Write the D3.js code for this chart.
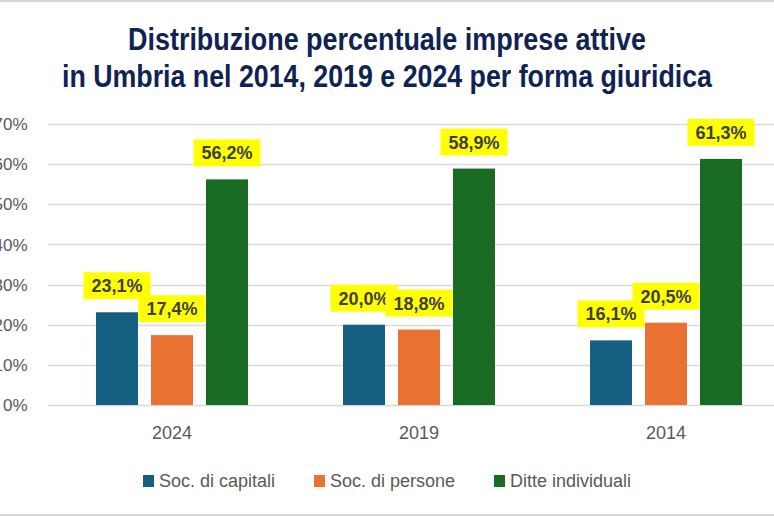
<!DOCTYPE html>
<html><head><meta charset="utf-8">
<script src="https://cdn.jsdelivr.net/npm/d3@7"></script>
<style>body{margin:0;background:#fff;} svg{display:block;}</style>
</head><body>
<svg id="c" width="774" height="516"></svg>
<script>
const years = ["2024", "2019", "2014"];
const seriesNames = ["Soc. di capitali", "Soc. di persone", "Ditte individuali"];
const socCapitali = [23.1, 20.0, 16.1];
const socPersone = [17.4, 18.8, 20.5];
const ditteIndividuali = [56.2, 58.9, 61.3];
const yTicks = [0, 10, 20, 30, 40, 50, 60, 70];
const colors = ["#156082", "#e97132", "#196b24"];
const titleLines = ["Distribuzione percentuale imprese attive", "in Umbria nel 2014, 2019 e 2024 per forma giuridica"];

const series = [socCapitali, socPersone, ditteIndividuali];
const svg = d3.select("#c");
const fmt = v => v.toFixed(1).replace(".", ",") + "%";

svg.append("rect").attr("x",0).attr("y",0).attr("width",774).attr("height",516).attr("fill","#fff");
svg.append("line").attr("x1",0).attr("x2",774).attr("y1",1).attr("y2",1).attr("stroke","#d6d6d6").attr("stroke-width",2);
svg.append("line").attr("x1",0).attr("x2",774).attr("y1",515).attr("y2",515).attr("stroke","#d6d6d6").attr("stroke-width",2);

// Title
const tl = [{t:titleLines[0], y:50, w:518, x:128},{t:titleLines[1], y:87, w:650, x:62}];
svg.selectAll("text.title").data(tl).enter().append("text")
  .attr("class","title")
  .attr("x", d=>d.x).attr("y", d=>d.y)
  .attr("textLength", d=>d.w).attr("lengthAdjust","spacingAndGlyphs")
  .attr("font-family","'Liberation Sans Narrow','Liberation Sans',Arial,sans-serif")
  .attr("font-weight","bold").attr("font-size",31).attr("fill","#0f2353")
  .text(d=>d.t);

const x0 = d3.scaleBand().domain(years).range([48.5, 789.5]).paddingInner(0).paddingOuter(0);
const y = d3.scaleLinear().domain([0, 70]).range([405, 124]);
const barW = 42, gap = 13;

// grid
svg.append("g").selectAll("line").data(yTicks).enter().append("line")
  .attr("x1", 48).attr("x2", 774)
  .attr("y1", d=>Math.round(y(d))+0.5).attr("y2", d=>Math.round(y(d))+0.5)
  .attr("stroke","#d9d9d9").attr("stroke-width",1.3);

// y axis labels
svg.append("g").selectAll("text").data(yTicks).enter().append("text")
  .attr("x", 27.5).attr("y", d=>y(d)).attr("dy","0.36em").attr("text-anchor","end")
  .attr("font-family","'Liberation Sans',Arial,sans-serif").attr("font-size",17).attr("fill","#595959")
  .text(d=>d+"%");

// x labels
svg.append("g").selectAll("text").data(years).enter().append("text")
  .attr("x", d=>x0(d)+x0.bandwidth()/2).attr("y", 439).attr("text-anchor","middle")
  .attr("font-family","'Liberation Sans',Arial,sans-serif").attr("font-size",18).attr("fill","#595959")
  .text(d=>d);

const groupW = 3*barW + 2*gap;
const barX = (i, s) => x0(years[i]) + (x0.bandwidth()-groupW)/2 + s*(barW+gap);

// bars
const bars = [];
series.forEach((arr, s) => arr.forEach((v, i) => bars.push({s, i, v})));
svg.append("g").selectAll("rect").data(bars).enter().append("rect")
  .attr("x", d=>barX(d.i, d.s)).attr("width", barW)
  .attr("y", d=>y(d.v)).attr("height", d=>y(0)-y(d.v))
  .attr("fill", d=>colors[d.s]);

// labels
const lg = svg.append("g");
const order = [];
years.forEach((yr,i)=>series.forEach((arr,s)=>order.push({s,i,v:arr[i]})));
order.forEach(d=>{
  const cx = barX(d.i, d.s) + barW/2;
  const g = lg.append("g");
  const t = g.append("text").attr("x", cx).attr("y", y(d.v)-13-7).attr("text-anchor","middle")
    .attr("font-family","'Liberation Sans',Arial,sans-serif").attr("font-weight","bold")
    .attr("font-size",18).attr("fill","#404040").text(fmt(d.v));
  const w = t.node().getComputedTextLength() + 16;
  g.insert("rect","text").attr("x", cx - w/2).attr("y", y(d.v)-13-27).attr("width", w).attr("height", 27).attr("fill","#ffff00");
});

// legend
const legX = [143, 314, 494];
const leg = svg.append("g").selectAll("g").data(seriesNames).enter().append("g")
  .attr("transform",(d,i)=>`translate(${legX[i]},0)`);
leg.append("rect").attr("x",0).attr("y",475).attr("width",11).attr("height",12).attr("fill",(d,i)=>colors[i]);
leg.append("text").attr("x",16).attr("y",487).attr("font-family","'Liberation Sans',Arial,sans-serif")
  .attr("font-size",18).attr("fill","#595959").text(d=>d);
</script>
</body></html>
